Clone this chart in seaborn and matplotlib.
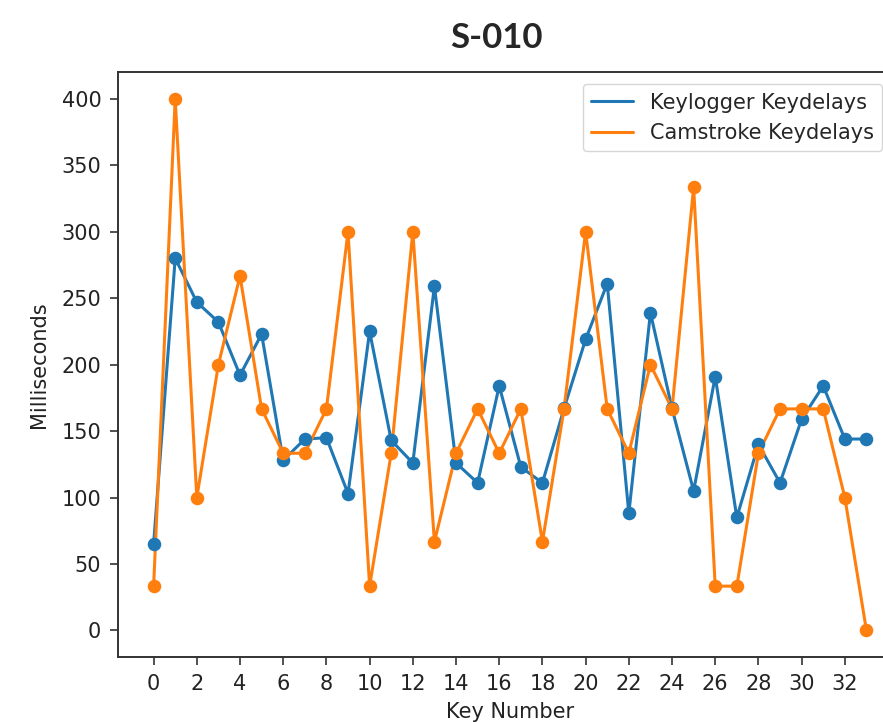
import numpy as np
import pandas as pd
import matplotlib
matplotlib.use("Agg")
import matplotlib.pyplot as plt
import seaborn as sns

# Delay between consecutive keys, in milliseconds
key_number = list(range(34))
keylogger_delays = [65, 280, 247, 232, 192, 223, 128, 144, 145, 103,
                    225, 143, 126, 259, 126, 111, 184, 123, 111, 167,
                    219, 261, 88, 239, 167, 105, 191, 85, 140, 111,
                    159, 184, 144, 144]
camstroke_delays = [33.33, 400, 100, 200, 266.67, 166.67, 133.33, 133.33, 166.67, 300,
                    33.33, 133.33, 300, 66.67, 133.33, 166.67, 133.33, 166.67, 66.67, 166.67,
                    300, 166.67, 133.33, 200, 166.67, 333.33, 33.33, 33.33, 133.33, 166.67,
                    166.67, 166.67, 100, 0]

series = [("Keylogger Keydelays", keylogger_delays, "#1f77b4"),
          ("Camstroke Keydelays", camstroke_delays, "#ff7f0e")]

sns.set_style("ticks")
plt.rcParams["font.family"] = ["DejaVu Sans"]
FS = 15

fig = plt.figure(figsize=(8.83, 7.22), dpi=100)
ax = fig.add_axes([0.1336, 0.090, 0.888, 0.810])

for label, values, color in series:
    df = pd.DataFrame({"key": key_number, "ms": values})
    sns.lineplot(data=df, x="key", y="ms", ax=ax, color=color, linewidth=2.2,
                 label=label)
    sns.scatterplot(data=df, x="key", y="ms", ax=ax, color=color, s=95,
                    linewidth=0, legend=False, zorder=3)

ax.set_xticks(np.arange(0, 33, 2))
ax.set_yticks(np.arange(0, 401, 50))
ax.tick_params(labelsize=FS, length=6, width=1.2, pad=6, color="#333333",
               labelcolor="#222222")
for sp in ax.spines.values():
    sp.set_linewidth(1.4)
    sp.set_color("#333333")
ax.set_xlabel("Key Number", fontsize=FS, color="#222222", labelpad=6)
ax.set_ylabel("Milliseconds", fontsize=FS, color="#222222", labelpad=9)

leg = ax.legend(loc="upper right", bbox_to_anchor=(0.9745, 0.9795),
                borderaxespad=0, fontsize=FS, frameon=True)
leg.get_frame().set_edgecolor("#cccccc")

fig.text(0.562, 0.947, "S-010", ha="center", va="center",
         fontsize=25, fontweight="bold", family=["Lato", "DejaVu Sans"])

fig.savefig("out.png", dpi=100)
